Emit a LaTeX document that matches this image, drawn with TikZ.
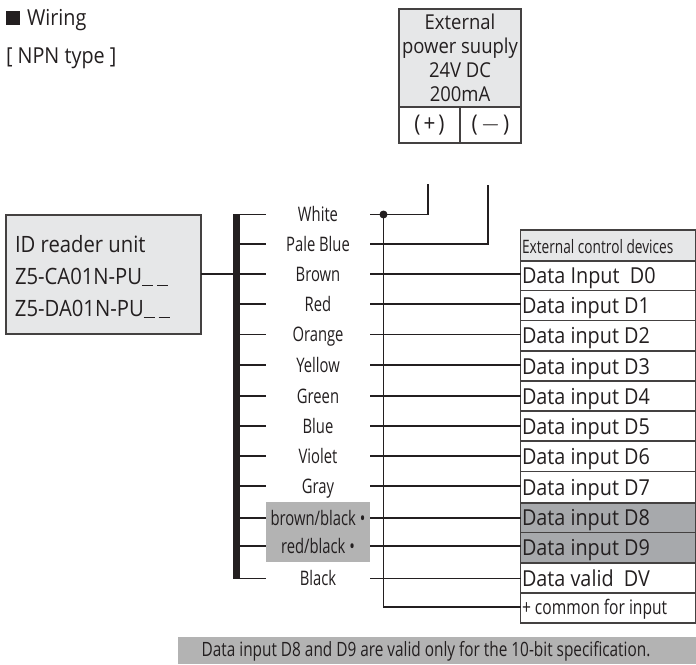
\documentclass[tikz,border=0pt]{standalone}
\usepackage{fontspec}
\setmainfont{Open Sans}
\newfontfamily\condfont[FakeStretch=0.74]{Open Sans}
\newfontfamily\midfont[FakeStretch=0.78]{Open Sans}
\newfontfamily\semifont[FakeStretch=0.9]{Open Sans}
\definecolor{ink}{HTML}{231F20}
\definecolor{panel}{HTML}{E6E7E8}
\definecolor{greypatch}{HTML}{B3B3B3}
\definecolor{greycell}{HTML}{A7A9AC}
\newcommand{\usc}{\rule[-2pt]{11pt}{1pt}}
\tikzset{
  x=1pt,y=-1pt,
  every node/.style={text=ink,inner sep=0pt,outer sep=0pt},
  boxline/.style={draw=ink!85,line width=1.3pt},
  wire/.style={draw=ink,line width=1.4pt},
  collabel/.style={font=\condfont\fontsize{20}{22}\selectfont,anchor=base},
  celltext/.style={font=\semifont\fontsize{22}{24}\selectfont,anchor=base west},
}
\begin{document}
\begin{tikzpicture}
\useasboundingbox (0,0) rectangle (696,664);
% titles
\node[anchor=west,font=\semifont\fontsize{22}{24}\selectfont] (title) at (6,20) {\rule{14pt}{14pt}\hspace{7pt}Wiring};
\node[anchor=west,font=\semifont\fontsize{22}{24}\selectfont] (type) at (6,58) {[ NPN type ]};
% power box
\node[boxline,fill=panel,anchor=north west,minimum width=122pt,minimum height=98pt] (psu) at (399,9) {};
\node[font=\semifont\fontsize{20.5}{24}\selectfont,align=center] (psutext) at (460,58) {External\\power suuply\\24V DC\\200mA};
\node[boxline,fill=white,anchor=north west,minimum width=61pt,minimum height=36pt,font=\semifont\fontsize{23}{24}\selectfont] (plus) at (399,107) {(\hspace{3pt}+\hspace{3pt})};
\node[boxline,fill=white,anchor=north west,minimum width=61pt,minimum height=36pt,font=\semifont\fontsize{23}{24}\selectfont] (minus) at (460,107) {(\hspace{3pt}$-$\hspace{3pt})};
% ID unit
\node[boxline,fill=panel,anchor=north west,minimum width=195pt,minimum height=119pt] (unit) at (6,215) {};
\node[anchor=west,font=\semifont\fontsize{22.5}{32}\selectfont,align=left] (unittext) at (15,276.5) {ID reader unit\\Z5-CA01N-PU\usc\hspace{4pt}\usc\\Z5-DA01N-PU\usc\hspace{4pt}\usc};
% shaded group
\fill[greypatch] (266,502) rectangle (370,562);
% bar
\node[fill=ink,anchor=north west,minimum width=7pt,minimum height=365pt] (bar) at (233,214) {};
\draw[wire] (unit.east |- 0,274) -- (bar.west |- 0,274);
% table header
\node[boxline,fill=panel,anchor=north west,minimum width=175pt,minimum height=31pt] (head) at (520.5,230) {};
\node[anchor=west,font=\condfont\fontsize{18.5}{20}\selectfont] (headtext) at (522,247) {External control devices};
% table cells
\foreach \n/\t/\h/\f/\txt in {
 3/261/29.5/white/Data Input\ \ D0,
 4/290.5/30/white/Data input D1,
 5/320.5/30.5/white/Data input D2,
 6/351/30/white/Data input D3,
 7/381/30/white/Data input D4,
 8/411/30/white/Data input D5,
 9/441/30.5/white/Data input D6,
 10/471.5/31.5/white/Data input D7,
 11/503/29.5/greycell/Data input D8,
 12/532.5/30.5/greycell/Data input D9,
 13/563/30/white/Data valid\ \ DV}{
  \node[boxline,fill=\f,anchor=north west,minimum width=175pt,minimum height=\h pt] (cell\n) at (520.5,\t) {};
  \node[celltext] (celltext\n) at (522,\t+\h/2+8) {\txt};
}
\node[boxline,fill=white,anchor=north west,minimum width=175pt,minimum height=30pt] (cell14) at (520.5,593) {};
\node[anchor=west,font=\midfont\fontsize{20}{22}\selectfont] (celltext14) at (522,609) {+ common for input};
% wire rows
\foreach \n/\y/\txt in {
 1/214.5/White,2/244/Pale Blue,3/274/Brown,4/304/Red,5/334.5/Orange,
 6/365/Yellow,7/396/Green,8/426/Blue,9/456/Violet,10/486/Gray,
 11/518/brown\slash black \textbullet,12/546/red\slash black \textbullet,13/578.5/Black}{
  \coordinate (bl\n) at (240,\y);
  \coordinate (br\n) at (266,\y);
  \coordinate (wl\n) at (370,\y);
  \node[collabel] (lab\n) at (318,\y+7) {\txt};
  \draw[wire] (bl\n) -- (br\n);
}
\foreach \n in {3,...,13}{
  \draw[wire] (wl\n) -- (wl\n -| cell\n.west);
}
% power wires
\coordinate (busTop) at (383.5,214.5);
\coordinate (busBot) at (383.5,607);
\coordinate (plusEnd) at (428,184);
\coordinate (minusEnd) at (488,185);
\draw[wire] (wl1) -- (wl1 -| plusEnd) -- (plusEnd);
\draw[wire] (wl2) -- (wl2 -| minusEnd) -- (minusEnd);
\draw[wire] (busTop) -- (busBot) -- (busBot -| cell14.west);
\node[circle,fill=ink,minimum size=8pt] (dot) at (busTop) {};
% note
\node[fill=greypatch,anchor=north west,minimum width=518pt,minimum height=27pt] (notebar) at (178,637) {};
\node[font=\midfont\fontsize{19.7}{22}\selectfont] (note) at (426,651) {Data input D8 and D9 are valid only for the 10-bit specification.};
\end{tikzpicture}
\end{document}
